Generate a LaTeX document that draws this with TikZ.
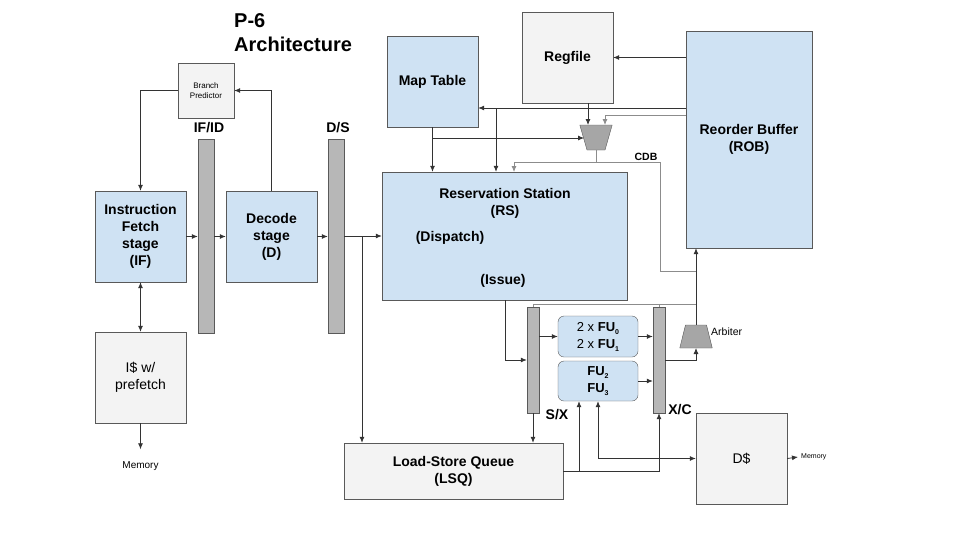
\documentclass[tikz,border=0pt]{standalone}
\usepackage{fontspec}
\setmainfont{Liberation Sans}
\usepackage{xcolor}
\usetikzlibrary{arrows.meta, positioning, shapes.geometric}
\definecolor{boxblue}{HTML}{CFE2F3}
\definecolor{boxgray}{HTML}{F3F3F3}
\definecolor{latchgray}{HTML}{B7B7B7}
\definecolor{muxgray}{HTML}{A6A6A6}
\definecolor{edgegray}{HTML}{595959}
\definecolor{wiregray}{HTML}{8C8C8C}
\newcommand{\fusub}[1]{\raisebox{-0.45ex}{\fontsize{7}{7}\selectfont\bfseries #1}}
\tikzset{
  bluebox/.style={draw=edgegray, fill=boxblue, inner sep=0pt, align=center, font=\fontsize{14}{17}\selectfont\bfseries},
  graybox/.style={draw=edgegray, fill=boxgray, inner sep=0pt, align=center, font=\fontsize{14}{17}\selectfont},
  latch/.style={draw=edgegray, fill=latchgray, inner sep=0pt, minimum width=16pt, minimum height=194pt},
  fubox/.style={bluebox, rounded corners=6pt, minimum width=80pt, font=\fontsize{13}{17}\selectfont},
  muxshape/.style={trapezium, draw=edgegray, fill=muxgray, inner xsep=9pt, outer sep=0pt},
  lbl/.style={inner sep=0pt, align=center, font=\fontsize{14}{17}\selectfont\bfseries},
  wire/.style={draw=black!80, line width=0.8pt},
  arr/.style={wire, -{Latex[length=6pt,width=5pt]}},
  biarr/.style={wire, {Latex[length=6pt,width=5pt]}-{Latex[length=6pt,width=5pt]}},
}

\begin{document}
\begin{tikzpicture}[x=1pt,y=-1pt]
\useasboundingbox (0,0) rectangle (964,542);

\node[anchor=north west, align=left, inner sep=0pt, font=\fontsize{20}{24}\selectfont\bfseries] (title) at (234,13) {P-6\\Architecture};

\node[graybox, minimum width=56pt, minimum height=55pt, font=\fontsize{8}{10}\selectfont] (bpred) at (206,90.5) {Branch\\Predictor};
\node[bluebox, minimum width=91pt, minimum height=91pt] (fetch) at (140.5,236.5) {Instruction\\Fetch\\stage\\(IF)};
\node[bluebox, minimum width=91pt, minimum height=91pt] (decode) at (271.5,236.5) {Decode\\stage\\(D)};
\node[graybox, minimum width=91pt, minimum height=91pt] (icache) at (140.5,377.5) {I\$ w/\\prefetch};
\node[inner sep=0pt, font=\fontsize{10}{12}\selectfont] (memi) at (140.5,466) {Memory};

\node[latch] (ifid) at (206,236) {};
\node[latch] (ds) at (336,236) {};
\node[lbl] (ifidlbl) at (209,128) {IF/ID};
\node[lbl] (dslbl) at (338,128) {D/S};

\node[bluebox, minimum width=91pt, minimum height=91pt] (maptab) at (432.5,81.5) {Map Table};
\node[graybox, minimum width=91pt, minimum height=91pt, font=\fontsize{14}{17}\selectfont\bfseries] (regfile) at (567.5,57.5) {Regfile};
\node[bluebox, minimum width=126pt, minimum height=217pt] (rob) at (749,139.5) {Reorder Buffer\\(ROB)};

\node[bluebox, minimum width=245pt, minimum height=128pt] (rs) at (504.5,236) {};
\node[lbl] (rstitle) at (505,203) {Reservation Station\\(RS)};
\node[lbl] (dispatch) at (450,238) {(Dispatch)};
\node[lbl] (issue) at (503,281) {(Issue)};

\node[muxshape, shape border rotate=180, trapezium angle=74, inner ysep=12.5pt] (mux) at (596,137.5) {};
\node[inner sep=0pt, font=\fontsize{10.5}{12}\selectfont\bfseries] (cdb) at (646,157) {CDB};

\node[latch, minimum width=12pt, minimum height=106pt] (sx) at (533,360) {};
\node[latch, minimum width=12pt, minimum height=106pt] (xc) at (659,360) {};
\node[lbl] (sxlbl) at (557,415) {S/X};
\node[lbl] (xclbl) at (680,410) {X/C};

\node[fubox, minimum height=41pt] (fua) at (598,336.5) {2 x \textbf{FU}\fusub{0}\\2 x \textbf{FU}\fusub{1}};
\node[fubox, minimum height=40pt] (fub) at (598,381) {\textbf{FU}\fusub{2}\\\textbf{FU}\fusub{3}};

\node[muxshape, trapezium angle=76, inner xsep=10.5pt, inner ysep=11.5pt] (arb) at (696,336.5) {};
\node[anchor=west, inner sep=0pt, font=\fontsize{10.5}{12}\selectfont] (arblbl) at (711,332) {Arbiter};

\node[graybox, minimum width=219pt, minimum height=56pt, font=\fontsize{14}{17}\selectfont\bfseries] (lsq) at (453.5,471) {Load-Store Queue\\(LSQ)};
\node[graybox, minimum width=91pt, minimum height=91pt] (dcache) at (741.5,458.5) {D\$};
\node[anchor=west, inner sep=0pt, font=\fontsize{7}{8}\selectfont] (memd) at (801,457) {Memory};

\coordinate (dsplit) at (362,236);
\coordinate (maprow) at (686,108);
\coordinate (rsin2) at (496,108);
\coordinate (muxrow) at (686,115);
\coordinate (muxa) at (588,125);
\coordinate (muxb) at (605,125);
\coordinate (mapsplit) at (432.5,138);
\coordinate (muxc) at (584,138);
\coordinate (muxout) at (596,150);
\coordinate (cdbsplit) at (596,162);
\coordinate (rsin3) at (514,172);
\coordinate (cdbturn) at (660,271);
\coordinate (robjoin) at (696,271);
\coordinate (busr) at (696,304);
\coordinate (rsout) at (505,300);
\coordinate (lsqsplit) at (579,471);
\coordinate (dturn) at (598,458.5);

\draw[arr] (bpred.west) -| (fetch.north);
\draw[arr] (decode.north) |- (bpred.east);
\draw[arr] (fetch.east) -- (fetch.east -| ifid.west);
\draw[arr] (ifid.east |- decode.west) -- (decode.west);
\draw[arr] (decode.east) -- (decode.east -| ds.west);
\draw[arr] (ds.east |- rs.west) -- (rs.west);
\draw[arr] (dsplit) -- (dsplit |- lsq.north);
\draw[biarr] (fetch.south) -- (icache.north);
\draw[arr] (icache.south) -- ([yshift=12pt]memi.north);

\draw[arr] (rob.west |- regfile.east) -- (regfile.east);
\draw[arr] (maprow) -- (maprow -| maptab.east);
\draw[arr] (rsin2) -- (rsin2 |- rs.north);
\draw[arr, draw=wiregray] (muxrow) -| (muxb);
\draw[arr] (regfile.south -| muxa) -- (muxa);
\draw[arr] (maptab.south) -- (maptab.south |- rs.north);
\draw[arr] (mapsplit) -- (muxc);
\draw[wire, draw=wiregray] (muxout) -- (cdbsplit);
\draw[arr, draw=wiregray] (cdbsplit) -| (rsin3);
\draw[wire, draw=wiregray] (cdbsplit) -| (cdbturn) -- (robjoin);

\draw[arr] (arb.north) -- (arb.north |- rob.south);
\draw[wire, draw=wiregray] (sx.north) |- (busr);
\draw[wire, draw=wiregray] (xc.north) -- (xc.north |- busr);
\draw[arr] (rsout) |- (sx.west);
\draw[arr] (sx.east |- fua.west) -- (fua.west);
\draw[arr] (fua.east) -- (fua.east -| xc.west);
\draw[arr] (fub.east) -- (fub.east -| xc.west);
\draw[arr] (xc.east) -| (arb.south);
\draw[arr] (sx.south) -- (sx.south |- lsq.north);

\draw[arr] (lsq.east) -| (xc.south);
\draw[arr] (lsqsplit) -- (lsqsplit |- fub.south);
\draw[biarr] (fub.south) -- (dturn) -- (dturn -| dcache.west);
\draw[arr] (dcache.east) -- ([xshift=-3pt]memd.west);
\end{tikzpicture}
\end{document}
